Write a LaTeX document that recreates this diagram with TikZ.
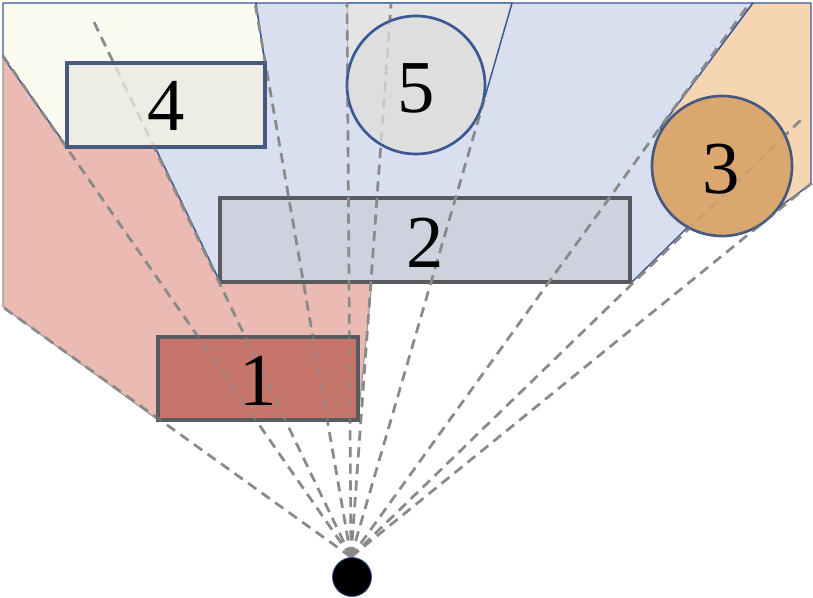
\documentclass[tikz,border=0pt]{standalone}
\usepackage{fontspec}
\setmainfont{Liberation Serif}
\definecolor{redreg}{HTML}{EBBAB2}
\definecolor{ivoryreg}{HTML}{FBFBF0}
\definecolor{bluereg}{HTML}{D9DFEE}
\definecolor{greyreg}{HTML}{E4E4E4}
\definecolor{orangereg}{HTML}{F6D6B2}
\definecolor{objone}{HTML}{C6756A}
\definecolor{objtwo}{HTML}{CDD2DE}
\definecolor{objfour}{HTML}{EDEDE5}
\definecolor{objfive}{HTML}{DEDEDE}
\definecolor{objthree}{HTML}{DAA86E}
\definecolor{outl}{HTML}{3A5894}
\definecolor{raycol}{HTML}{8A8A8A}
\definecolor{rectedge}{HTML}{585A60}
\begin{document}
\begin{tikzpicture}[x=0.75pt,y=-0.75pt,
  regionline/.style={draw=outl,line width=1.1pt,line join=round},
  raystyle/.style={draw=raycol,line width=2pt,dash pattern=on 7.5pt off 5pt},
  rectobj/.style={draw=rectedge,line width=2.6pt},
  circobj/.style={draw=outl,line width=2pt},
  numlabel/.style={font=\fontsize{56}{56}\selectfont,inner sep=0pt}]
\useasboundingbox (0,0) rectangle (813,598);
% ray origin and ends
\coordinate (O) at (351,557);
\coordinate (e1) at (0,305);
\coordinate (e2) at (3,56);
\coordinate (e3) at (93,20);
\coordinate (e4) at (255,3);
\coordinate (e5) at (347,3);
\coordinate (e6) at (391,4);
\coordinate (e7) at (485,97);
\coordinate (e8) at (804,117);
\coordinate (e9) at (813,182);
\coordinate (e10) at (749,4);
% object corners
\coordinate (r4a) at (67,63); \coordinate (r4b) at (265,147);
\coordinate (r2a) at (220,198); \coordinate (r2b) at (630,282);
\coordinate (r1a) at (158,337); \coordinate (r1b) at (358,420);
\coordinate (c5) at (416,85);
\coordinate (c3) at (722,166);
\coordinate (eye) at (352,577);
% regions
\filldraw[fill=redreg,draw=gray!80,line width=0.8pt] (158,420) -- (3,307) -- (3,57) -- (67,147) -- (155,147) -- (220,282) -- (372,282) -- (358,420) -- cycle;
\filldraw[fill=ivoryreg,regionline] (3,3) -- (256,3) -- (265,63) -- (265,147) -- (67,147) -- (3,57) -- cycle;
\filldraw[fill=bluereg,regionline] (256,3) -- (753,3) -- (668,118) -- (688,227) -- (632,282) -- (220,282) -- (155,147) -- (265,63) -- cycle;
\fill[greyreg] (347,3) -- (512,3) -- (485,97) -- (416,154) -- (347,85) -- cycle;
\draw[regionline] (347,3) -- (512,3) -- (485,97);
\draw[gray!60,line width=0.6pt] (347,3) -- (347,85);
\filldraw[fill=orangereg,regionline] (753,3) -- (811,3) -- (811,184) -- (745,232) -- (660,128) -- cycle;
% rect 2 lies under the rays
\filldraw[fill=objtwo,rectobj] (r2a) rectangle (r2b);
% rays
\foreach \e in {e1,e2,e3,e4,e5,e6,e7,e8,e9,e10} \draw[raystyle] (O) -- (\e);
% objects
\filldraw[fill=objfour,rectobj,draw=outl!60!rectedge] (r4a) rectangle (r4b);
\filldraw[fill=objone,rectobj,line width=3pt] (r1a) rectangle (r1b);
\filldraw[fill=objfive,circobj] (c5) circle[radius=69];
\filldraw[fill=objthree,circobj,draw=outl!55!rectedge] (c3) circle[radius=70];
% faint rays over objects
\begin{scope}[opacity=0.25]
\foreach \e in {e1,e2,e3,e4,e5,e6,e7,e8,e9,e10} \draw[raystyle] (O) -- (\e);
\end{scope}
\begin{scope}[opacity=0.35]
\clip (r1a) rectangle (r1b);
\foreach \e in {e1,e2,e3,e4,e5,e6,e7,e8,e9,e10} \draw[raystyle] (O) -- (\e);
\end{scope}
\filldraw[fill=black,draw=outl,line width=0.6pt] (eye) circle[radius=19.5];
% labels
\node[numlabel] (l4) at (166,106) {4};
\node[numlabel] (l5) at (416,88) {5};
\node[numlabel] (l3) at (721,169) {3};
\node[numlabel] (l2) at (425,243) {2};
\node[numlabel] (l1) at (258,381) {1};
\end{tikzpicture}
\end{document}
